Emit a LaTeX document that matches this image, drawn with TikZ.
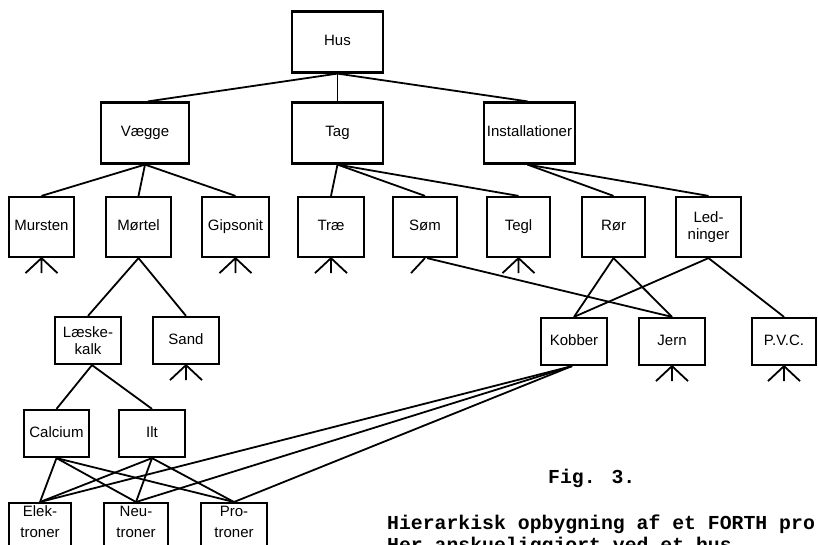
\documentclass[tikz,border=0pt]{standalone}
\usepackage{fontspec}
\setmainfont{Liberation Sans}
\newfontfamily\capfont{Liberation Mono}
\begin{document}
\begin{tikzpicture}[x=1pt,y=-1pt,
  box/.style={draw, line width=2.2pt, inner sep=0pt, align=center,
    font=\fontsize{15}{17}\selectfont, text height=11, text depth=3.5},
  twoline/.style={text height=, text depth=},
  big/.style={box, minimum width=91, minimum height=61},
  mid/.style={box, minimum width=65, minimum height=60},
  small/.style={box, minimum width=66, minimum height=47},
  lbl/.style={align=center, inner sep=0pt, font=\fontsize{15}{21}\selectfont},
  link/.style={line width=1.8pt},
  caption/.style={anchor=base west, inner sep=0pt,
    font=\capfont\bfseries\fontsize{19.8}{22}\selectfont}]
\useasboundingbox (0,0) rectangle (818,545);
\clip (0,0) rectangle (818,545);

% top level
\node[big] (hus) at (337.5,42) {Hus};
% second level
\node[big, minimum width=88] (vaegge) at (145,133) {Vægge};
\node[big] (tag) at (337.5,133) {Tag};
\node[big] (inst) at (529.5,133) {Installationer};
% third level
\node[mid] (mursten)  at (41.5,227)  {Mursten};
\node[mid] (moertel)  at (138.5,227) {Mørtel};
\node[mid, minimum width=67] (gipsonit) at (235.5,227) {Gipsonit};
\node[mid, minimum width=66] (trae) at (331,227) {Træ};
\node[mid, minimum width=64] (soem) at (425,227) {Søm};
\node[mid, minimum width=63] (tegl) at (518.5,227) {Tegl};
\node[mid, minimum width=63] (roer) at (613.5,227) {Rør};
\node[mid, twoline] (led) at (708.5,227) {Led-\\ninger};
% fourth level
\node[small, twoline] (laeske) at (88,340.5) {Læske-\\kalk};
\node[small] (sand)   at (186,340.5)  {Sand};
\node[small] (kobber) at (574,341.5)  {Kobber};
\node[small] (jern)   at (672,341.5)  {Jern};
\node[small, minimum width=64] (pvc) at (784,341.5) {P.V.C.};
% fifth level
\node[small, minimum width=65] (calcium) at (56.5,433.5) {Calcium};
\node[small] (ilt) at (152,433.5) {Ilt};
% particles (boxes run past the lower edge)
\node[box, minimum width=62, minimum height=80, anchor=north] (elek) at (40,502) {};
\node[box, minimum width=64, minimum height=80, anchor=north] (neut) at (136,502) {};
\node[box, minimum width=66, minimum height=80, anchor=north] (prot) at (234,502) {};
\node[lbl] (elekt) at (40,522)  {Elek-\\troner};
\node[lbl] (neutt) at (136,522) {Neu-\\troner};
\node[lbl] (prott) at (234,522) {Pro-\\troner};

% tree connections
\draw[link] (hus.south) -- ([xshift=3]vaegge.north);
\draw[link] (hus.south) -- (tag.north);
\draw[link] (hus.south) -- ([xshift=-2]inst.north);
\foreach \c in {mursten,moertel,gipsonit} \draw[link] (vaegge.south) -- (\c.north);
\foreach \c in {trae,soem,tegl} \draw[link] (tag.south) -- (\c.north);
\foreach \c in {roer,led} \draw[link] ([xshift=-2]inst.south) -- (\c.north);
\foreach \c in {laeske,sand} \draw[link] (moertel.south) -- (\c.north);
\foreach \c in {calcium,ilt} \draw[link] ([xshift=4]laeske.south) -- (\c.north);
\foreach \c in {kobber,jern} \draw[link] (roer.south) -- (\c.north);
\foreach \c in {kobber,pvc} \draw[link] (led.south) -- (\c.north);
\draw[link] ([xshift=2]soem.south) -- (jern.north);
\foreach \c in {elek,neut,prot} {
  \draw[link] (calcium.south) -- (\c.north);
  \draw[link] (ilt.south) -- (\c.north);
  \draw[link] ([xshift=-2]kobber.south) -- (\c.north);
}

% stubs for parts that are broken down further
\foreach \n in {mursten,gipsonit,trae,tegl,sand,jern,pvc}
  \draw[link] (\n.south) -- ++(-16,15) (\n.south) -- ++(0,15) (\n.south) -- ++(16,15);
\draw[link] (soem.south) -- ++(-14,15);

% caption
\node[caption] (fig) at (548,483) {Fig. 3.};
\node[caption] (cap1) at (387,529) {Hierarkisk opbygning af et FORTH pro};
\node[caption] (cap2) at (387,551) {Her anskueliggjort ved et hus.};
\end{tikzpicture}
\end{document}
